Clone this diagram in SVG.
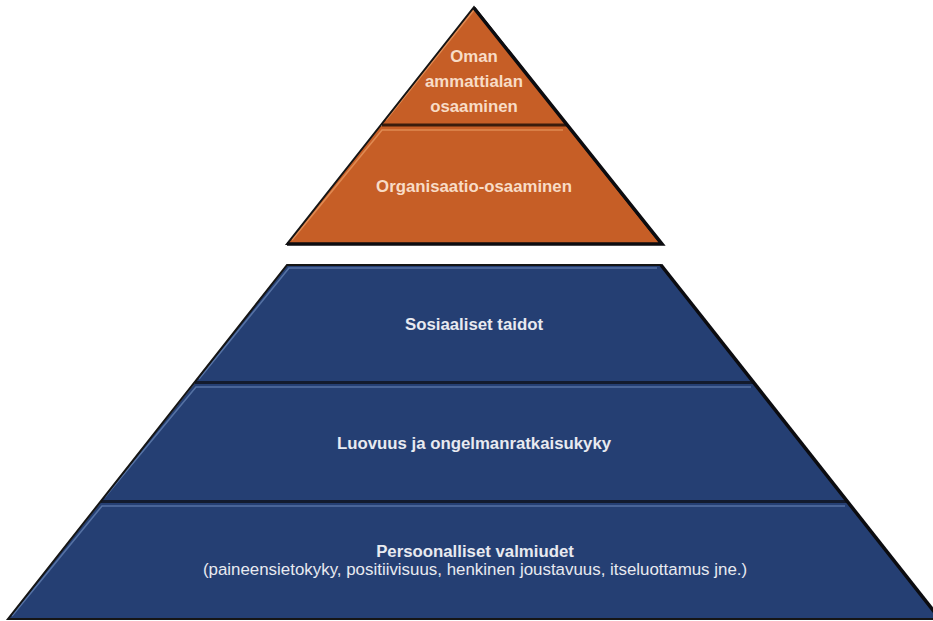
<svg xmlns="http://www.w3.org/2000/svg" width="933" height="621" viewBox="0 0 933 621">
<style>
.o{fill:#c65e26}
.b{fill:#253f73}
.oh{stroke:#e08a52;stroke-width:1.6;fill:none}
.bh{stroke:#5572a4;stroke-width:1.6;fill:none}
.os{stroke:#3a1c0c;stroke-width:3;fill:none}
.bs{stroke:#131b2e;stroke-width:3;fill:none}
.edge{stroke:#151515;stroke-width:2;fill:none;stroke-linejoin:miter}
.shade{stroke:#0c0c10;stroke-width:3.5;fill:none}
.t{font-family:"Liberation Sans",Arial,sans-serif;font-size:16.8px;font-weight:bold;text-anchor:middle}
.to{fill:#f8dcc6}
.tb{fill:#e8eaf0}
.tr{font-family:"Liberation Sans",Arial,sans-serif;font-size:16.9px;text-anchor:middle;fill:#e8eaf0}
</style>
<rect width="933" height="621" fill="#ffffff"/>

<g id="top-pyramid">
  <g id="oman-ammattialan-osaaminen">
    <polygon class="o" points="474,7 567,124 381,124"/>
    <polyline class="oh" points="386,120 474,10"/>
    <text class="t to" x="474" y="62">Oman</text>
    <text class="t to" x="474" y="87">ammattialan</text>
    <text class="t to" x="474" y="112">osaaminen</text>
  </g>
  <g id="organisaatio-osaaminen">
    <polygon class="o" points="380,126 568,126 661,244 287,244"/>
    <polyline class="oh" points="292,240 382,130 563,130"/>
    <text class="t to" x="474" y="192">Organisaatio-osaaminen</text>
  </g>
  <line class="os" x1="382" y1="125" x2="567" y2="125"/>
  <polygon class="edge" points="474,7 661,244 287,244"/>
  <polyline class="shade" points="474,8 662,244 287,244"/>
</g>

<g id="bottom-pyramid">
  <g id="sosiaaliset-taidot">
    <polygon class="b" points="287,265 661,265 753,382 195,382"/>
    <polyline class="bh" points="199,379 289,268 657,268"/>
    <text class="t tb" x="474" y="330">Sosiaaliset taidot</text>
  </g>
  <g id="luovuus-ja-ongelmanratkaisukyky">
    <polygon class="b" points="195,383 753,383 847,501 101,501"/>
    <polyline class="bh" points="105,497 196,387 751,387"/>
    <text class="t tb" x="474" y="449">Luovuus ja ongelmanratkaisukyky</text>
  </g>
  <g id="persoonalliset-valmiudet">
    <polygon class="b" points="101,502 847,502 940,619 8,619"/>
    <polyline class="bh" points="12,616 102,506 845,506"/>
    <text class="t tb" x="475" y="557">Persoonalliset valmiudet</text>
    <text class="tr" x="475" y="575">(paineensietokyky, positiivisuus, henkinen joustavuus, itseluottamus jne.)</text>
  </g>
  <line class="bs" x1="195" y1="382.5" x2="753" y2="382.5"/>
  <line class="bs" x1="101" y1="501.5" x2="847" y2="501.5"/>
  <polygon class="edge" points="287,265 661,265 940,619 8,619"/>
  <polyline class="shade" points="661,265 940,619"/>
</g>
</svg>
